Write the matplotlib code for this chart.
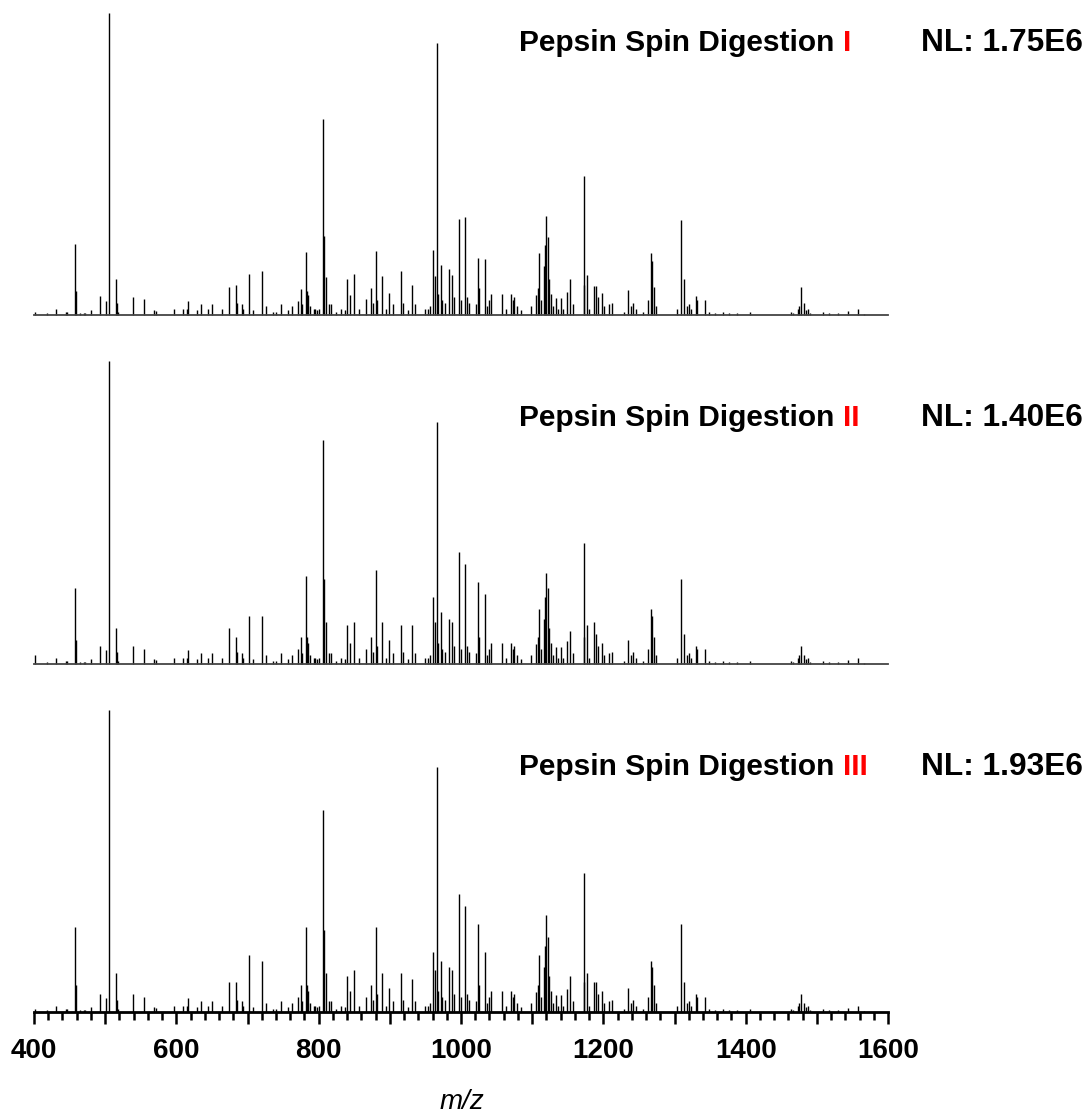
import matplotlib
matplotlib.use("Agg")
import matplotlib.pyplot as plt
from matplotlib.ticker import MultipleLocator

plt.rcParams["font.family"] = ["Liberation Sans", "DejaVu Sans"]

# Centroid m/z values of the resolved peaks (shared by the three replicate digests)
peak_mz = [
    401, 418, 431, 445, 447, 458, 459, 465, 470, 472,
    480, 493, 501.6, 505.4, 515, 516, 518, 539.6, 554.6, 569,
    571, 596.7, 609, 614.5, 617, 629.5, 635, 645, 650, 663.7,
    673.5, 684, 685.5, 692, 694, 701.6, 708, 720, 725.6, 736,
    740, 747.5, 757, 763, 770.5, 774.7, 777, 782.6, 783.6, 785.4,
    788, 793, 795, 797, 800, 806.5, 807.5, 810, 814, 817,
    824, 831, 836.6, 839.4, 843.6, 850, 856, 866, 873.5, 876.6,
    880, 882, 888.5, 894, 899, 905, 915.2, 918.7, 925.6, 931.5,
    935, 949.4, 954, 957, 960.2, 963.9, 966.7, 968, 971.4, 974,
    977, 982.7, 986.9, 990, 997.6, 1000, 1005, 1008, 1011, 1021,
    1023.4, 1024.7, 1033.7, 1036.5, 1039, 1041.7, 1057, 1063.7, 1069.8, 1072.6,
    1075, 1079, 1085, 1098, 1105.3, 1107.7, 1110, 1113, 1116, 1118,
    1119.9, 1122.2, 1124, 1126.4, 1129, 1133, 1137, 1140.5, 1144, 1148.4,
    1153.6, 1157.6, 1172.4, 1173.4, 1176.6, 1180, 1186.8, 1189, 1192, 1198.5,
    1201, 1208, 1211.6, 1229.4, 1234.6, 1238.8, 1242, 1245.6, 1256, 1263,
    1267.4, 1269, 1271, 1274, 1304, 1308.6, 1312.8, 1317, 1320.7, 1323,
    1329.7, 1332, 1343, 1348, 1357, 1368.5, 1376, 1387.6, 1406, 1463.6,
    1467, 1473, 1475.3, 1478, 1482.4, 1485, 1487.7, 1491, 1508, 1517,
    1530, 1543.7, 1558.2, 1566,
]

# Relative abundance (%) for each digestion replicate
intensity_I = [
    1, 0.5, 2, 1, 1, 23.5, 8, 0.7, 0.6, 0.6,
    1.5, 6.3, 4.6, 100, 12, 4, 1, 6, 5.2, 1.5,
    1.2, 2, 2, 2, 4.7, 1.5, 3.7, 2, 3.7, 2,
    9.4, 9.8, 4, 3.5, 2, 13.6, 1.5, 14.6, 3, 1,
    1, 3.5, 1.5, 3, 4.6, 8.6, 3.5, 20.7, 8, 6.7,
    3, 2, 2, 1.5, 2, 65, 26, 12.5, 3.5, 3.5,
    1, 2, 1.5, 11.8, 6.7, 13.7, 2, 5.2, 8.8, 4,
    21.2, 5, 12.9, 2, 7.4, 3.5, 14.6, 4, 1.5, 9.8,
    3.5, 2, 2, 3, 21.5, 13, 90, 7, 16.4, 5,
    4, 15.2, 13.2, 6, 31.8, 5, 32.5, 6, 4, 3.5,
    18.8, 9, 18.4, 3, 5, 7.1, 7, 2, 7, 5,
    5.8, 3, 1.5, 3, 6.5, 8.8, 20.4, 5, 16.3, 23.2,
    32.9, 25.7, 12, 7, 3, 5.5, 2, 5.7, 2, 7.5,
    12, 3.5, 46, 10, 13.2, 2, 9.7, 9.7, 6, 7.4,
    3, 3.5, 4, 1, 8.3, 3, 4, 2, 1, 5,
    20.4, 18, 9.4, 3, 2, 31.5, 11.8, 3, 3.7, 2,
    6.4, 5, 5, 1, 0.5, 1, 0.5, 0.5, 1, 1,
    0.5, 2, 3, 9.4, 4, 1.5, 2, 0.5, 1, 0.8,
    0.5, 1.2, 2, 0.3,
]

intensity_II = [
    3, 0.5, 2, 1, 1, 25, 8, 0.7, 0.6, 0.6,
    1.5, 6, 4.6, 100, 12, 4, 1, 6, 5, 1.5,
    1.2, 2, 2, 2, 4.5, 1.5, 3.5, 2, 3.5, 2,
    12, 9, 4, 3.5, 2, 16, 1.5, 16, 3, 1,
    1, 3.5, 1.5, 3, 5, 9, 3.5, 29, 9, 7,
    3, 2, 2, 1.5, 2, 74, 28, 14, 3.5, 3.5,
    1, 2, 1.5, 13, 7, 14, 2, 5, 9, 4,
    31, 6, 14, 2, 8, 3.5, 13, 4, 1.5, 13,
    3.5, 2, 2, 3, 22, 14, 80, 7, 17, 5,
    4, 15, 14, 6, 37, 5, 33, 6, 4, 3.5,
    27, 9, 23, 3, 5, 7, 7, 2, 7, 5,
    5.8, 3, 1.5, 3, 6.5, 8.8, 18, 5, 15, 22,
    30, 25, 12, 7, 3, 5.5, 2, 5.7, 2, 7.5,
    11, 3.5, 40, 9, 13, 2, 14, 10, 6, 7,
    3, 3.5, 4, 1, 8, 3, 4, 2, 1, 5,
    18, 16, 9, 3, 2, 28, 10, 3, 3.7, 2,
    6, 5, 5, 1, 0.5, 1, 0.5, 0.5, 1, 1,
    0.5, 2, 3, 6, 3, 1.5, 2, 0.5, 1, 0.8,
    0.5, 1.2, 2, 0.3,
]

intensity_III = [
    1, 0.5, 2, 1, 1, 28, 9, 0.7, 0.6, 0.6,
    1.5, 6, 4.6, 100, 13, 4, 1, 6, 5, 1.5,
    1.2, 2, 2, 2, 4.5, 1.5, 3.5, 2, 3.5, 2,
    10, 10, 4, 3.5, 2, 19, 1.5, 17, 3, 1,
    1, 3.5, 1.5, 3, 5, 9, 3.5, 28, 9, 7,
    3, 2, 2, 1.5, 2, 67, 27, 13, 3.5, 3.5,
    1, 2, 1.5, 12, 7, 14, 2, 5, 9, 4,
    28, 6, 13, 2, 8, 3.5, 13, 4, 1.5, 11,
    3.5, 2, 2, 3, 20, 14, 81, 7, 17, 5,
    4, 15, 14, 6, 39, 5, 35, 6, 4, 3.5,
    29, 9, 20, 3, 5, 7, 7, 2, 7, 5,
    5.8, 3, 1.5, 3, 6.5, 8.8, 19, 5, 15, 22,
    32, 25, 12, 7, 3, 5.5, 2, 5.7, 2, 7.5,
    12, 3.5, 46, 10, 13, 2, 10, 10, 6, 7,
    3, 3.5, 4, 1, 8, 3, 4, 2, 1, 5,
    17, 15, 9, 3, 2, 29, 10, 3, 3.7, 2,
    6, 5, 5, 1, 0.5, 1, 0.5, 0.5, 1, 1,
    0.5, 2, 3, 6, 3, 1.5, 2, 0.5, 1, 0.8,
    0.5, 1.2, 2, 0.3,
]

replicate_labels = ["I", "II", "III"]
nl_labels = ["NL: 1.75E6", "NL: 1.40E6", "NL: 1.93E6"]
xticks_major = [400, 600, 800, 1000, 1200, 1400, 1600]

W, H = 1091, 1116
fig = plt.figure(figsize=(W / 100, H / 100), dpi=100)

def fx(px):
    return px / W

def fy(py):
    return 1 - py / H

# panel geometry in pixels: (baseline row, row of the 100 % level)
panels = [(315, 13), (664, 361), (1012, 710)]
left_px, right_px = 34, 888
title_baselines = [51, 426, 775]

series = [intensity_I, intensity_II, intensity_III]
for k, ((base, top), inten) in enumerate(zip(panels, series)):
    ax = fig.add_axes([fx(left_px), fy(base), fx(right_px) - fx(left_px),
                       (base - top) / H])
    ax.set_xlim(400, 1600)
    ax.set_ylim(0, 100)
    ax.vlines(peak_mz, 0, inten, color="black", linewidth=1.0, clip_on=False)
    for s in ("top", "right", "left"):
        ax.spines[s].set_visible(False)
    ax.set_yticks([])
    if k < 2:
        ax.spines["bottom"].set_linewidth(1.3)
        ax.spines["bottom"].set_color("#444444")
        ax.set_xticks([])
    else:
        ax.spines["bottom"].set_linewidth(2.0)
        ax.xaxis.set_major_locator(MultipleLocator(100))
        ax.xaxis.set_minor_locator(MultipleLocator(20))
        ax.tick_params(axis="x", which="major", direction="out", length=8.5,
                       width=1.8, pad=10)
        ax.tick_params(axis="x", which="minor", direction="out", length=6,
                       width=1.8)
        ax.set_xticks(range(400, 1601, 100))
        ax.set_xticklabels([str(v) if v in xticks_major else ""
                            for v in range(400, 1601, 100)],
                           fontsize=20, fontweight="bold")

    # panel title with the replicate numeral in red
    t = fig.text(fx(519), fy(title_baselines[k]), "Pepsin Spin Digestion",
                 fontsize=21.5, fontweight="bold", color="black", va="baseline")
    ax.annotate(replicate_labels[k], xy=(1, 0), xycoords=t,
                xytext=(6, 0), textcoords="offset points",
                fontsize=21.5, fontweight="bold", color="#ff0000",
                va="bottom", ha="left")
    fig.text(fx(921), fy(title_baselines[k]), nl_labels[k], fontsize=22.8,
             fontweight="bold", color="black", va="baseline")

fig.text(fx(462), fy(1102), "m/z", fontsize=20, fontstyle="italic",
         ha="center", va="center")

fig.savefig("out.png", dpi=100, facecolor="white")
